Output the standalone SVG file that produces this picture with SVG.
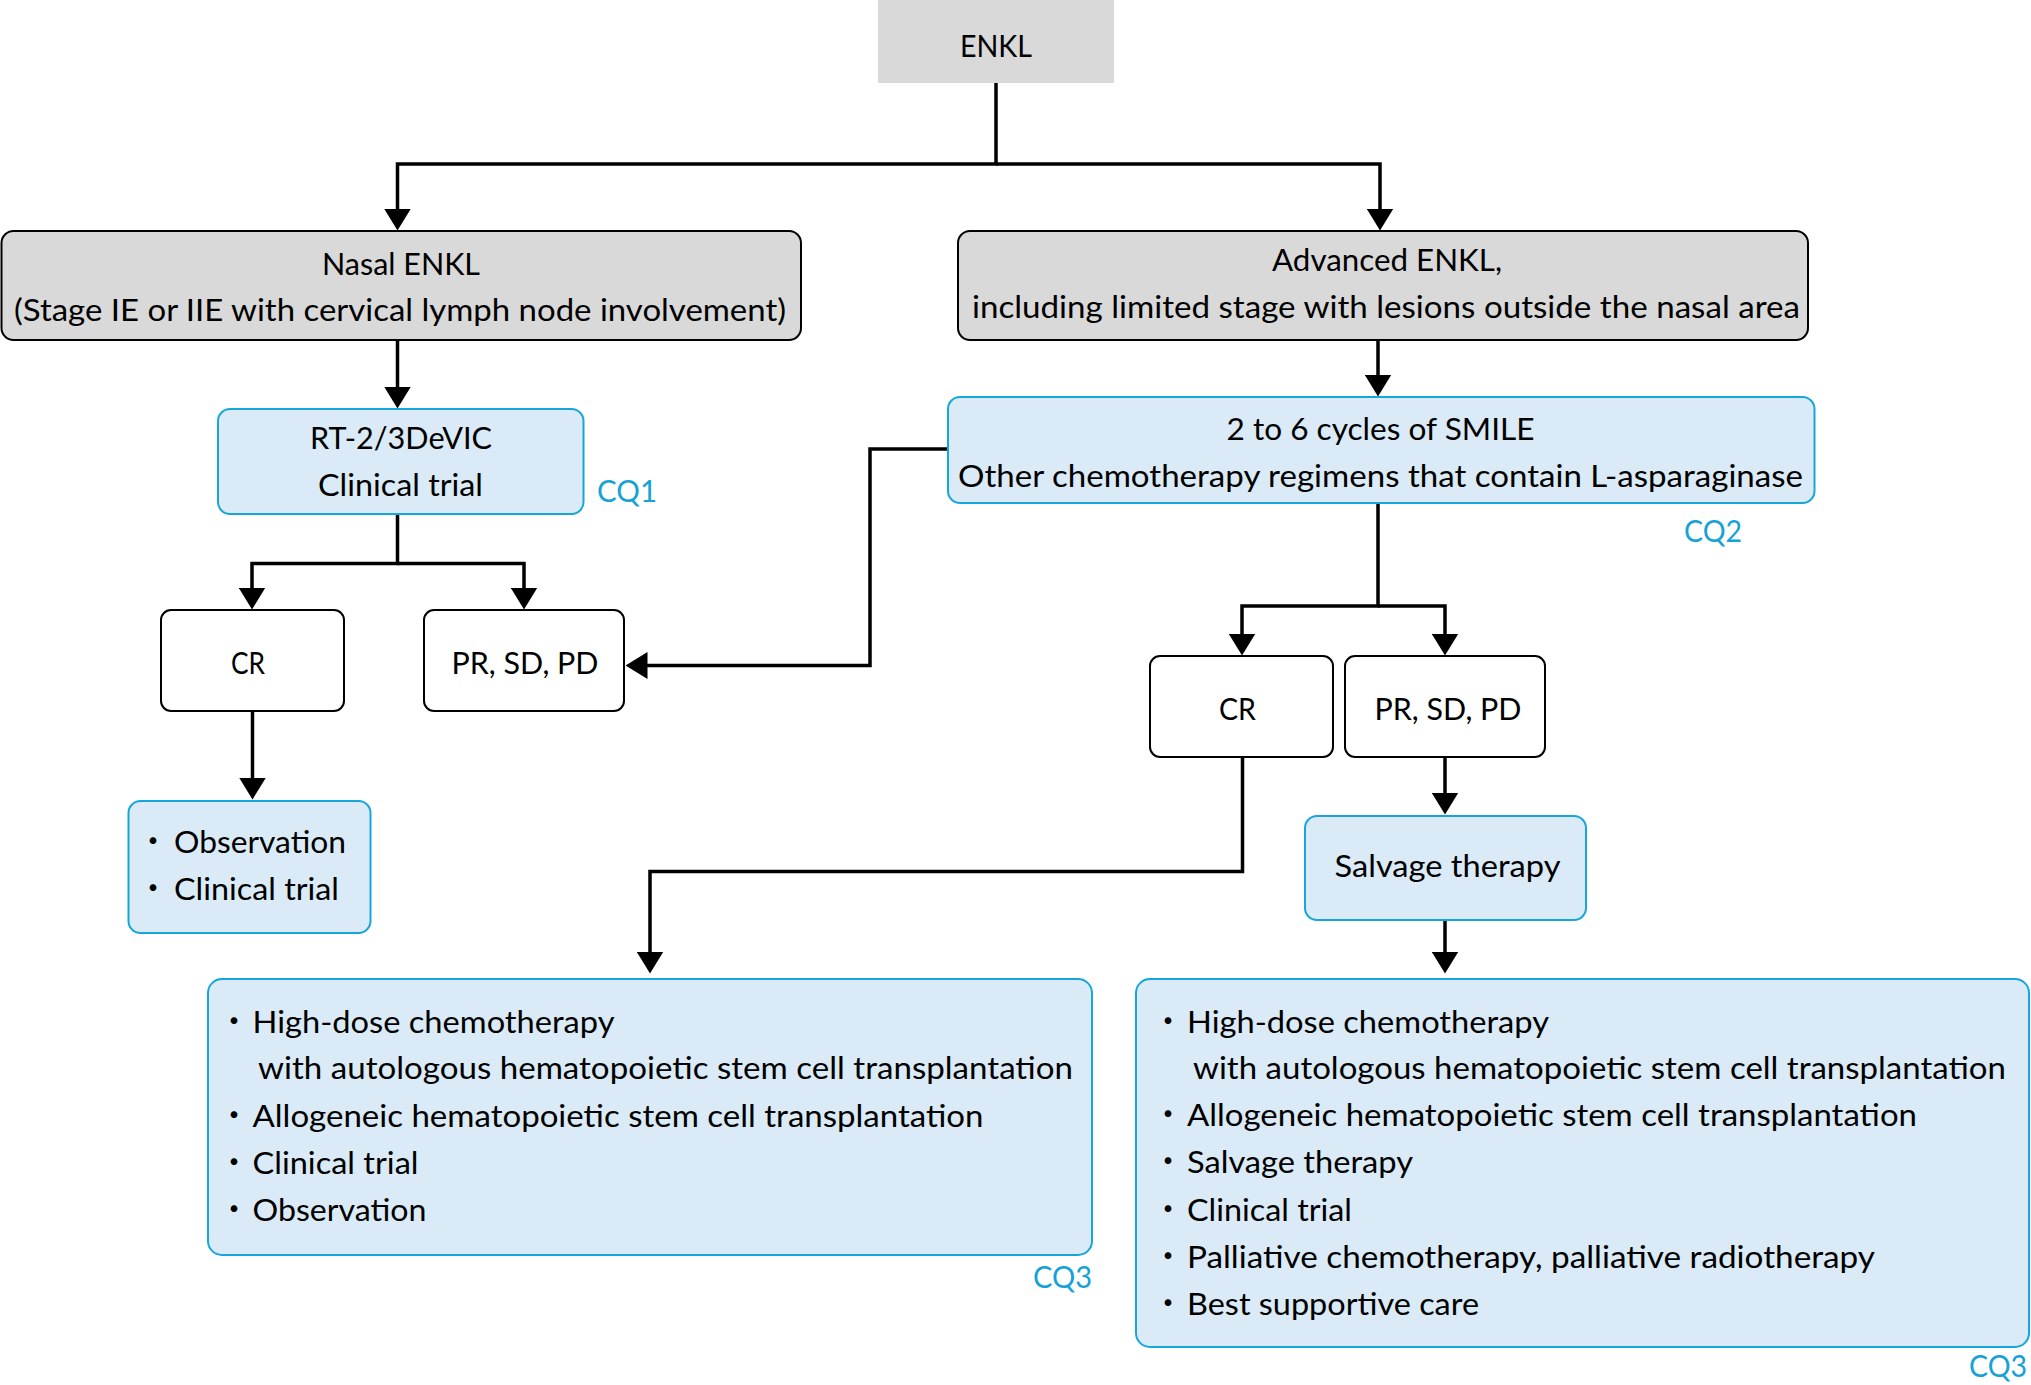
<svg xmlns="http://www.w3.org/2000/svg" width="2031" height="1385" viewBox="0 0 2031 1385">
<defs>
<marker id="ah" viewBox="0 0 22 27" refX="0.5" refY="13.5" markerWidth="22" markerHeight="27" markerUnits="userSpaceOnUse" orient="auto">
<path d="M0,0 L22,13.5 L0,27 Z" fill="#000"/>
</marker>
<style>
text{font-family:Lato,"Noto Sans CJK JP",sans-serif;font-size:31.5px;fill:#000}
.c{text-anchor:middle}
.cq{fill:#16A2D7}
.gray{fill:#D9D9D9;stroke:#000;stroke-width:2}
.blue{fill:#DAEBF7;stroke:#16A6DC;stroke-width:2}
.white{fill:#FFF;stroke:#000;stroke-width:2}
.conn path{fill:none;stroke:#000;stroke-width:3.5;stroke-linejoin:miter}
</style>
</defs>
<rect width="2031" height="1385" fill="#fff"/>

<g class="conn" id="connectors">
<path d="M996,83 V164 H397.5 V209" marker-end="url(#ah)"/>
<path d="M996,164 H1380 V209" marker-end="url(#ah)"/>
<path d="M397.5,340 V387" marker-end="url(#ah)"/>
<path d="M1378,340 V375" marker-end="url(#ah)"/>
<path d="M397.5,514 V563.5 H252 V588" marker-end="url(#ah)"/>
<path d="M397.5,563.5 H524 V588" marker-end="url(#ah)"/>
<path d="M948,449 H870 V665.5 H647" marker-end="url(#ah)"/>
<path d="M252.5,711 V778" marker-end="url(#ah)"/>
<path d="M1378,503 V606 H1242 V634" marker-end="url(#ah)"/>
<path d="M1378,606 H1445 V634" marker-end="url(#ah)"/>
<path d="M1242.5,757 V871.5 H650 V952" marker-end="url(#ah)"/>
<path d="M1445,757 V793" marker-end="url(#ah)"/>
<path d="M1445,920 V952" marker-end="url(#ah)"/>
</g>

<g id="enkl">
<rect x="878" y="0" width="236" height="83" fill="#D9D9D9"/>
<text class="c" x="996" y="57" textLength="72" lengthAdjust="spacingAndGlyphs">ENKL</text>
</g>

<g id="nasal">
<rect class="gray" x="1.5" y="231" width="799.5" height="109" rx="12"/>
<text class="c" x="401" y="274.5" textLength="158" lengthAdjust="spacingAndGlyphs">Nasal ENKL</text>
<text class="c" x="400" y="321" textLength="772" lengthAdjust="spacingAndGlyphs">(Stage IE or IIE with cervical lymph node involvement)</text>
</g>

<g id="advanced">
<rect class="gray" x="958" y="231" width="850" height="109" rx="12"/>
<text class="c" x="1387" y="271" textLength="230" lengthAdjust="spacingAndGlyphs">Advanced ENKL,</text>
<text class="c" x="1386" y="318" textLength="828" lengthAdjust="spacingAndGlyphs">including limited stage with lesions outside the nasal area</text>
</g>

<g id="rt">
<rect class="blue" x="218" y="409" width="365.5" height="105" rx="12"/>
<text class="c" x="401" y="448.5" textLength="182" lengthAdjust="spacingAndGlyphs">RT-2/3DeVIC</text>
<text class="c" x="400.5" y="496" textLength="165" lengthAdjust="spacingAndGlyphs">Clinical trial</text>
</g>
<text id="cq1" class="cq" x="597" y="502" textLength="60" lengthAdjust="spacingAndGlyphs">CQ1</text>

<g id="smile">
<rect class="blue" x="948" y="397" width="866.5" height="106" rx="12"/>
<text class="c" x="1380.5" y="439.5" textLength="308" lengthAdjust="spacingAndGlyphs">2 to 6 cycles of SMILE</text>
<text class="c" x="1380.5" y="486.5" textLength="845" lengthAdjust="spacingAndGlyphs">Other chemotherapy regimens that contain L-asparaginase</text>
</g>
<text id="cq2" class="cq" x="1684" y="542" textLength="58" lengthAdjust="spacingAndGlyphs">CQ2</text>

<g id="cr1">
<rect class="white" x="161" y="610" width="183" height="101" rx="10"/>
<text class="c" x="248" y="674" textLength="34" lengthAdjust="spacingAndGlyphs">CR</text>
</g>
<g id="pr1">
<rect class="white" x="424" y="610" width="200" height="101" rx="10"/>
<text class="c" x="525" y="674" textLength="147" lengthAdjust="spacingAndGlyphs">PR, SD, PD</text>
</g>

<g id="cr2">
<rect class="white" x="1150" y="656" width="183" height="101" rx="10"/>
<text class="c" x="1237.5" y="720" textLength="37" lengthAdjust="spacingAndGlyphs">CR</text>
</g>
<g id="pr2">
<rect class="white" x="1345" y="656" width="200" height="101" rx="10"/>
<text class="c" x="1448" y="720" textLength="147" lengthAdjust="spacingAndGlyphs">PR, SD, PD</text>
</g>

<g id="observation">
<rect class="blue" x="128.5" y="801" width="242" height="132" rx="12"/>
<text y="852.5"><tspan x="153" class="c">・</tspan><tspan x="174" textLength="172" lengthAdjust="spacingAndGlyphs">Observation</tspan></text>
<text y="899.5"><tspan x="153" class="c">・</tspan><tspan x="174" textLength="165" lengthAdjust="spacingAndGlyphs">Clinical trial</tspan></text>
</g>

<g id="salvage">
<rect class="blue" x="1305" y="816" width="281" height="104" rx="12"/>
<text class="c" x="1447.5" y="877" textLength="226" lengthAdjust="spacingAndGlyphs">Salvage therapy</text>
</g>

<g id="cr-options">
<rect class="blue" x="208" y="979" width="884" height="276" rx="14"/>
<text y="1033"><tspan x="234" class="c">・</tspan><tspan x="252.5" textLength="362" lengthAdjust="spacingAndGlyphs">High-dose chemotherapy</tspan></text>
<text x="258" y="1079" textLength="815" lengthAdjust="spacingAndGlyphs">with autologous hematopoietic stem cell transplantation</text>
<text y="1127"><tspan x="234" class="c">・</tspan><tspan x="252.5" textLength="731" lengthAdjust="spacingAndGlyphs">Allogeneic hematopoietic stem cell transplantation</tspan></text>
<text y="1174"><tspan x="234" class="c">・</tspan><tspan x="252.5" textLength="166" lengthAdjust="spacingAndGlyphs">Clinical trial</tspan></text>
<text y="1221"><tspan x="234" class="c">・</tspan><tspan x="252.5" textLength="174" lengthAdjust="spacingAndGlyphs">Observation</tspan></text>
</g>
<text id="cq3a" class="cq" x="1033" y="1288" textLength="59" lengthAdjust="spacingAndGlyphs">CQ3</text>

<g id="pr-options">
<rect class="blue" x="1136" y="979" width="893" height="368" rx="14"/>
<text y="1033"><tspan x="1168" class="c">・</tspan><tspan x="1187" textLength="362" lengthAdjust="spacingAndGlyphs">High-dose chemotherapy</tspan></text>
<text x="1193" y="1079" textLength="813" lengthAdjust="spacingAndGlyphs">with autologous hematopoietic stem cell transplantation</text>
<text y="1126"><tspan x="1168" class="c">・</tspan><tspan x="1187" textLength="730" lengthAdjust="spacingAndGlyphs">Allogeneic hematopoietic stem cell transplantation</tspan></text>
<text y="1173"><tspan x="1168" class="c">・</tspan><tspan x="1187" textLength="226" lengthAdjust="spacingAndGlyphs">Salvage therapy</tspan></text>
<text y="1221"><tspan x="1168" class="c">・</tspan><tspan x="1187" textLength="165" lengthAdjust="spacingAndGlyphs">Clinical trial</tspan></text>
<text y="1268"><tspan x="1168" class="c">・</tspan><tspan x="1187" textLength="688" lengthAdjust="spacingAndGlyphs">Palliative chemotherapy, palliative radiotherapy</tspan></text>
<text y="1315"><tspan x="1168" class="c">・</tspan><tspan x="1187" textLength="292" lengthAdjust="spacingAndGlyphs">Best supportive care</tspan></text>
</g>
<text id="cq3b" class="cq" x="1969" y="1377" textLength="58" lengthAdjust="spacingAndGlyphs">CQ3</text>
</svg>
